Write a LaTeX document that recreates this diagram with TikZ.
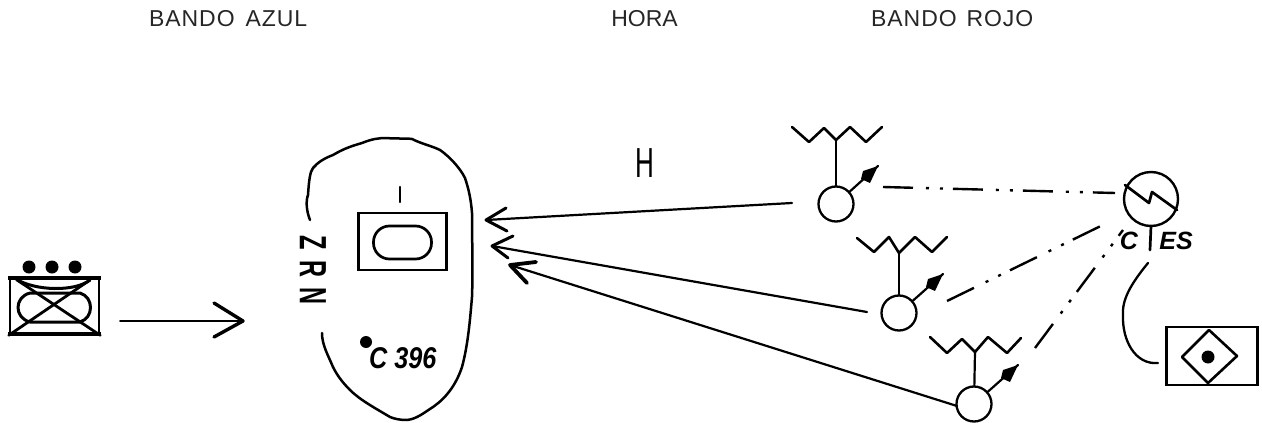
\documentclass[tikz,border=0pt]{standalone}
\usepackage{fontspec}
\usepackage{graphicx}
\setmainfont{Liberation Sans}
\tikzset{
  x=1pt,y=-1pt,
  ink/.style={draw=black,line width=2.2pt,line cap=round,line join=round},
  heavy/.style={ink,line width=3pt},
  thin link/.style={ink,line width=1.6pt},
  radar/.style={circle,draw=black,line width=2.3pt,minimum size=35pt,inner sep=0pt},
  blackdot/.style={circle,fill=black,inner sep=0pt,minimum size=#1},
  header/.style={inner sep=0pt,text=black!85,font=\fontsize{23}{24}\selectfont},
  label/.style={inner sep=0pt,text=black},
  ddot/.style={ink,line width=2.4pt,line cap=butt,dash pattern=on 30pt off 13pt on 3pt off 11pt on 3pt off 10pt},
}
\begin{document}
\begin{tikzpicture}
\useasboundingbox (0,0) rectangle (1262,423);
% headers
\node[header,anchor=west] (hA) at (149,19) {\addfontfeature{LetterSpace=4}BANDO\hspace{11pt}AZUL};
\node[header,anchor=east] (hH) at (678,19) {HORA};
\node[header,anchor=west] (hR) at (871,19) {\addfontfeature{LetterSpace=4}BANDO\hspace{10pt}ROJO};
% tank
\node[draw=black,line width=2.6pt,minimum width=89pt,minimum height=56pt,inner sep=0pt] (tank) at (54.5,306) {};
\draw[line width=4.5pt] (8,278) -- (101,278);
\draw[line width=4.5pt] (8,334) -- (101,334);
\node[blackdot=13pt] (d1) at (29,267) {};
\node[blackdot=13pt] (d2) at (52,267) {};
\node[blackdot=13pt] (d3) at (75,267) {};
\draw[heavy] (16,279) .. controls (35,291) and (75,292) .. (90,280);
\draw[heavy] (30,293) .. controls (14,297) and (14,318) .. (30,322) -- (80,322) .. controls (94,318) and (94,297) .. (80,293) -- cycle;
\draw[ink,line width=2.8pt] (17,280) -- (tank.south east);
\draw[ink,line width=2.8pt] (tank.south west) -- (90,280);
% advance arrow
\coordinate (m0) at (120,321);
\coordinate (m1) at (243,321);
\draw[thin link] (m0) -- (m1);
\draw[heavy,line width=3.4pt] (214,303) -- (m1) -- (214,337);
% zone
\draw[ink,line width=2.5pt] (310,220) .. controls (306,210) and (306,200) .. (308,195)
  .. controls (309,180) and (310,172) .. (313,168)
  .. controls (318,162) and (325,158) .. (333,155)
  .. controls (345,148) and (352,146) .. (362,143)
  .. controls (372,139) and (378,138) .. (387,138)
  .. controls (395,139) and (405,138) .. (412,139)
  .. controls (422,144) and (432,146) .. (440,150)
  .. controls (450,157) and (460,168) .. (465,178)
  .. controls (469,190) and (471,200) .. (472,213)
  .. controls (472,240) and (473,270) .. (472,297)
  .. controls (470,320) and (468,345) .. (462,367)
  .. controls (456,385) and (446,398) .. (433,407)
  .. controls (425,412) and (417,419) .. (407,420)
  .. controls (400,420) and (395,419) .. (390,417)
  .. controls (375,408) and (360,400) .. (350,390)
  .. controls (342,382) and (337,375) .. (333,367)
  .. controls (328,355) and (322,345) .. (322,333);
\node[draw=black,line width=2.1pt,minimum width=88pt,minimum height=57pt,inner sep=0pt] (unit) at (402.5,241.5) {};
\node[draw=black,line width=2.7pt,rounded corners=16pt,minimum width=58pt,minimum height=33pt,inner sep=0pt] (oval) at (402.5,242.5) {};
\coordinate (tk0) at (400,187);
\coordinate (tk1) at (400,202);
\draw[ink,line width=2.6pt] (tk0) -- (tk1);
\node[label,rotate=-90,font=\bfseries\fontsize{38}{40}\selectfont] (zrn) at (313,270) {\scalebox{0.62}[1]{Z\hspace{17pt}R\hspace{17pt}N}};
\node[blackdot=12pt] (cdot) at (366,342) {};
\node[label,anchor=west,font=\bfseries\itshape\fontsize{30}{33}\selectfont] (c396) at (369,358) {\scalebox{0.84}[1]{C 396}};
% H
\node[label,font=\fontsize{42}{44}\selectfont] (h) at (645,163.5) {\scalebox{0.62}[1]{H}};
% radars
\node[radar] (c1) at (836,204) {};
\node[radar] (c2) at (899,313) {};
\node[radar] (c3) at (974,404) {};
% antennas
\coordinate (top1) at (836,140);
\draw[ink,line width=2.6pt] (792,127) -- (809,142) -- (824,128) -- (top1) -- (850,127) -- (866,142) -- (882,127);
\draw[ink,line width=2.8pt] (top1) -- (c1);
\coordinate (top2) at (899,253);
\draw[ink,line width=2.6pt] (857,238) -- (874,252) -- (889,237) -- (top2) -- (915,237) -- (932,252) -- (947,237);
\draw[ink] (top2) -- (c2);
\coordinate (top3) at (975,352);
\draw[ink,line width=2.6pt] (930,337) -- (947,353) -- (962,339) -- (top3) -- (988,337) -- (1007,353) -- (1021,338);
\draw[ink] (top3) -- (c3);
% radar beams
\coordinate (b1) at (878,166);
\coordinate (b2) at (943,274);
\coordinate (b3) at (1018,365);
\draw[ink] (c1) -- (b1);
\draw[ink] (c2) -- (b2);
\draw[ink] (c3) -- (b3);
\fill (b1) -- ++(-15,5) -- ++(-2,8) -- ++(9,4) -- cycle;
\fill (b2) -- ++(-15,5) -- ++(-2,8) -- ++(9,4) -- cycle;
\fill (b3) -- ++(-15,5) -- ++(-2,8) -- ++(9,4) -- cycle;
% fire arrows
\coordinate (s1) at (792,203);\coordinate (t1) at (486,220);
\coordinate (s2) at (867,312);\coordinate (t2) at (492,246);
\coordinate (s3) at (957,406);\coordinate (t3) at (510,265);
\draw[ink] (s1) -- (t1);
\draw[heavy] (506,208) -- (t1) -- (507,231);
\draw[ink] (s2) -- (t2);
\draw[heavy] (513,236) -- (t2) -- (508,258);
\draw[ink] (s3) -- (t3);
\draw[heavy,line width=3.8pt] (536,262) -- (t3) -- (527,283);
% control station
\node[circle,draw=black,line width=2.4pt,minimum size=54pt,inner sep=0pt] (ces) at (1151,199) {};
\draw[ink,line width=2.7pt] (1125,185) -- (1149,203) -- (1152,192) -- (1177,210);
\coordinate (st) at (1150,250);
\draw[ink,line width=2.7pt] (ces) ++(0,27) -- (st);
\node[label,font=\bfseries\itshape\fontsize{25}{28}\selectfont,anchor=base] (lc) at (1129,249) {C};
\node[label,font=\bfseries\itshape\fontsize{25}{28}\selectfont,anchor=base] (les) at (1176,249) {ES};
% command links
\coordinate (e1) at (883,187);\coordinate (f1) at (1115,193);
\coordinate (e2) at (947,301);\coordinate (f2) at (1111,221);
\coordinate (e3) at (1035,348);\coordinate (f3) at (1123,230);
\draw[ddot] (e1) -- (f1);
\draw[ddot] (e2) -- (f2);
\draw[ddot] (e3) -- (f3);
% command post
\node[draw=black,line width=2.4pt,minimum width=91pt,minimum height=58pt,inner sep=0pt] (post) at (1212,356) {};
\draw[ink,line width=2.6pt] (1209,330) -- (1237,356) -- (1208,383) -- (1182,357) -- cycle;
\node[blackdot=13pt] (pdot) at (1208,357) {};
\coordinate (w0) at (1148,263);
\coordinate (w1) at (1158,363);
\draw[ink,line width=2.3pt] (w0) .. controls (1130,285) and (1122,300) .. (1123,315) .. controls (1122,340) and (1135,365) .. (w1);
\end{tikzpicture}
\end{document}
